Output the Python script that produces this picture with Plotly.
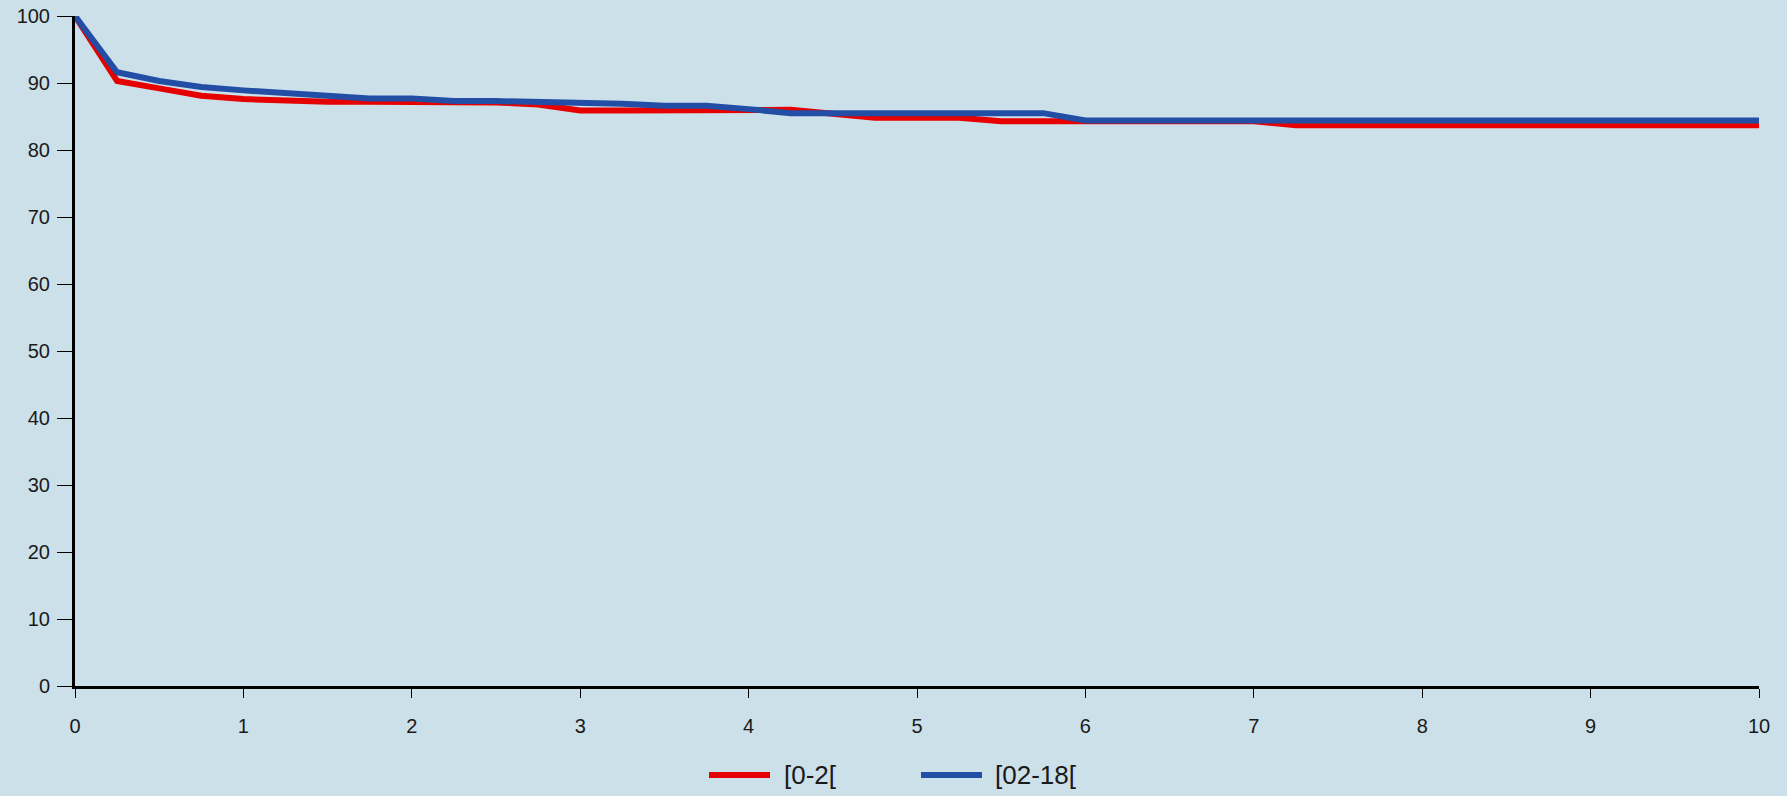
import plotly.graph_objects as go

# Follow-up time (years), sampled every quarter year
years = [i * 0.25 for i in range(41)]

# Survival (%) by age group
surv_0_2 = [100, 90.3, 89.2, 88.1, 87.6, 87.3, 87.2, 87.2, 87.2, 87.2,
            87.1, 86.8, 85.9, 85.9, 85.9, 85.9, 86.0, 86.0, 85.4, 84.8,
            84.8, 84.8, 84.3, 84.3, 84.3, 84.3, 84.3, 84.3, 84.3, 83.7,
            83.7, 83.7, 83.7, 83.7, 83.7, 83.7, 83.7, 83.7, 83.7, 83.7,
            83.7]
surv_2_18 = [100, 91.6, 90.3, 89.4, 88.9, 88.5, 87.9, 87.7, 87.7, 87.3,
             87.3, 87.2, 86.9, 86.9, 86.6, 86.6, 86.1, 85.5, 85.5, 85.5,
             85.5, 85.5, 85.5, 85.5, 84.4, 84.4, 84.4, 84.4, 84.4, 84.4,
             84.4, 84.4, 84.4, 84.4, 84.4, 84.4, 84.4, 84.4, 84.4, 84.4,
             84.4]

series_names = ["[0-2[", "[02-18["]
series_colors = ["#e60000", "#234ea5"]

x_ticks = list(range(0, 11))
y_ticks = list(range(0, 101, 10))

BG = "#cce0ea"
FONT = "Liberation Sans, Arial, sans-serif"

fig = go.Figure()
for name, vals, col in zip(series_names, [surv_0_2, surv_2_18], series_colors):
    fig.add_trace(go.Scatter(
        x=years, y=vals, mode="lines", name=name,
        line=dict(color=col, width=6),
        showlegend=False,
    ))

# Legend drawn below the plot: colored line sample followed by its label
W, H = 1787, 796
L, R, T, B = 75, 28, 16, 110
pw, ph = W - L - R, H - T - B


def px_to_paper_x(px):
    return (px - L) / pw


def px_to_paper_y(py):
    return (H - B - py) / ph


legend_items = [(709, 770, 782), (921, 982, 993)]
shapes = []
annotations = []
leg_y = px_to_paper_y(775)
for (x0, x1, tx), name, col in zip(legend_items, series_names, series_colors):
    shapes.append(dict(type="line", xref="paper", yref="paper",
                       x0=px_to_paper_x(x0), x1=px_to_paper_x(x1),
                       y0=leg_y, y1=leg_y,
                       line=dict(color=col, width=6)))
    annotations.append(dict(xref="paper", yref="paper",
                            x=px_to_paper_x(tx), y=leg_y,
                            text=name, showarrow=False,
                            xanchor="left", yanchor="middle",
                            font=dict(size=26, color="#1a1a1a", family=FONT)))

fig.update_layout(
    width=W, height=H,
    margin=dict(l=L, r=R, t=T, b=B),
    paper_bgcolor=BG, plot_bgcolor=BG,
    font=dict(family=FONT, size=20, color="#1a1a1a"),
    shapes=shapes, annotations=annotations,
    xaxis=dict(range=[0, 10], tickvals=x_ticks, showgrid=False, zeroline=False,
               showline=True, linewidth=3, linecolor="black", automargin=False,
               ticks="outside", ticklen=9, tickwidth=1, tickcolor="black",
               ticklabelstandoff=11),
    yaxis=dict(range=[0, 100], tickvals=y_ticks, showgrid=False, zeroline=False,
               showline=True, linewidth=3, linecolor="black", automargin=False,
               ticks="outside", ticklen=15, tickwidth=1, tickcolor="black",
               ticklabelstandoff=3),
)

fig.write_html("out.html")
